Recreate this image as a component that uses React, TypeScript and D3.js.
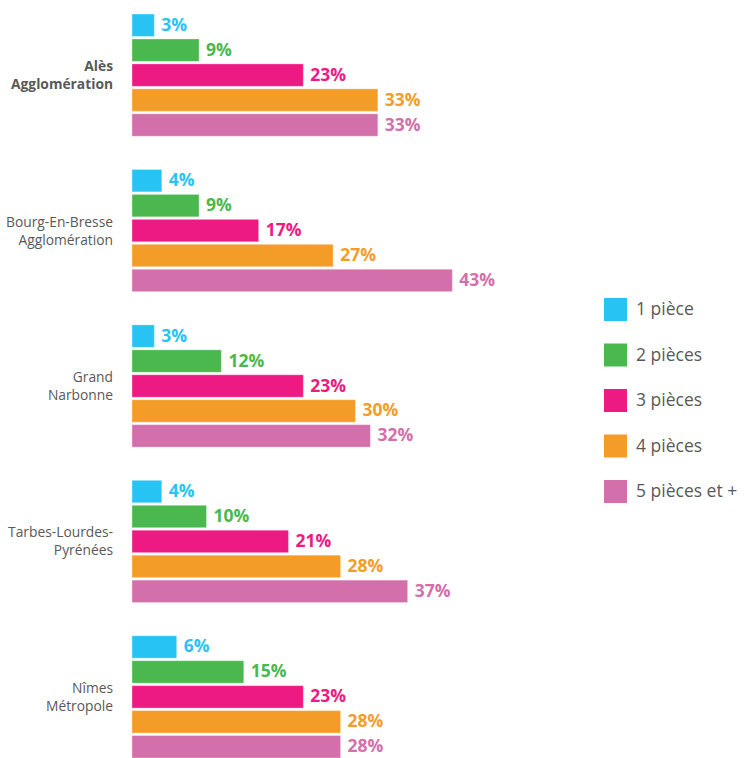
import React from "react";
import * as d3 from "d3";

const categories = ["Alès Agglomération", "Bourg-En-Bresse Agglomération", "Grand Narbonne", "Tarbes-Lourdes-Pyrénées", "Nîmes Métropole"];
const categoryLines = [["Alès", "Agglomération"], ["Bourg-En-Bresse", "Agglomération"], ["Grand", "Narbonne"], ["Tarbes-Lourdes-", "Pyrénées"], ["Nîmes", "Métropole"]];
const boldCategory = [true, false, false, false, false];
const series = ["1 pièce", "2 pièces", "3 pièces", "4 pièces", "5 pièces et +"];
const colors = ["#27C4F3", "#4AB84E", "#EC1A82", "#F39D28", "#D36FAA"];
const values = [
  [3, 9, 23, 33, 33],
  [4, 9, 17, 27, 43],
  [3, 12, 23, 30, 32],
  [4, 10, 21, 28, 37],
  [6, 15, 23, 28, 28],
];

export default function App() {
  const W = 746, H = 758;
  const x0 = 132;
  const x = d3.scaleLinear().domain([0, 100]).range([x0, x0 + 745]);
  const yGroup = d3.scaleBand<string>().domain(categories).range([14, 758]).paddingInner(0.2135).paddingOuter(0);
  const ySeries = d3.scaleBand<string>().domain(series).range([0, yGroup.bandwidth()]).paddingInner(0.1).paddingOuter(0);
  const font = "'Open Sans', 'DejaVu Sans', sans-serif";
  return (
    <svg width={W} height={H} style={{ position: "absolute", left: 0, top: 0, background: "#fff" }} fontFamily={font}>
      {categories.map((c, ci) => {
        const gy = yGroup(c)!;
        const cy = gy + yGroup.bandwidth() / 2;
        return (
          <g key={c}>
            <text x={113} y={cy} textAnchor="end" fontSize={13.8} fill="#595959" fontWeight={boldCategory[ci] ? 700 : 400}>
              {categoryLines[ci].map((l, li) => (
                <tspan key={li} x={113} y={cy - 9 + li * 18 + 5}>{l}</tspan>
              ))}
            </text>
            {series.map((s, si) => {
              const v = values[ci][si];
              const by = gy + ySeries(s)!;
              const bh = ySeries.bandwidth();
              return (
                <g key={s}>
                  <rect x={x(0)} y={by} width={x(v) - x(0)} height={bh} fill={colors[si]} stroke="#ffffff" strokeOpacity={0.35} strokeWidth={1} />
                  <text x={x(v) + 7} y={by + bh / 2 + 5.5} fontSize={17.5} fontWeight={700} fill={colors[si]}>{v}%</text>
                </g>
              );
            })}
          </g>
        );
      })}
      {series.map((s, si) => {
        const ly = 298 + si * 45.5;
        return (
          <g key={s}>
            <rect x={604} y={ly} width={23} height={23} fill={colors[si]} />
            <text x={636} y={ly + 17} fontSize={17.5} fill="#595959">{s}</text>
          </g>
        );
      })}
    </svg>
  );
}
